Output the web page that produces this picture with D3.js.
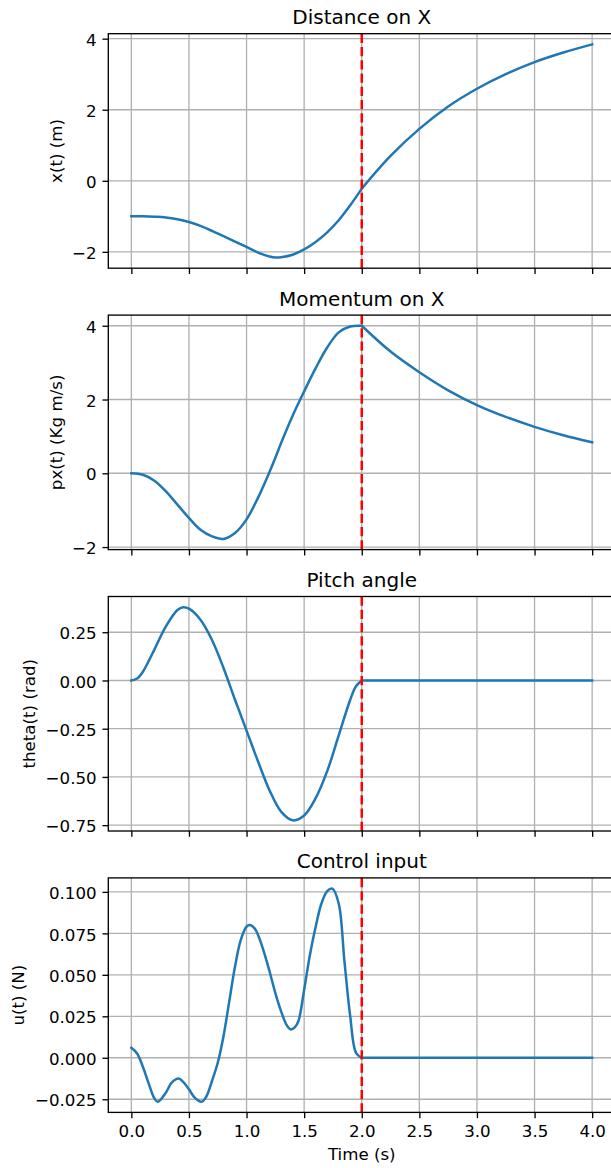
<!DOCTYPE html>
<meta charset="utf-8">
<style>
body { margin: 0; background: #fff; }
svg { display: block; font-family: "DejaVu Sans", sans-serif; }
</style>
<body>
<script src="https://cdn.jsdelivr.net/npm/d3@7"></script>
<script>
// position and momentum samples (s, m, kg m/s)
var tState = [0, 0.1, 0.2, 0.3, 0.4, 0.5, 0.6, 0.7, 0.8, 0.9, 1.0, 1.1, 1.2, 1.25, 1.3, 1.4, 1.5, 1.6, 1.7, 1.8, 1.9, 2.0,
              2.25, 2.5, 2.75, 3.0, 3.25, 3.5, 3.75, 4.0];
var xPos   = [-1.00, -1.00, -1.01, -1.03, -1.08, -1.16, -1.27, -1.41, -1.56, -1.71, -1.86, -2.02, -2.13, -2.16, -2.15, -2.08, -1.93, -1.72, -1.45, -1.11, -0.69, -0.22,
              0.70, 1.46, 2.09, 2.59, 3.00, 3.34, 3.61, 3.84];
var pxMom  = [0.00, -0.04, -0.20, -0.49, -0.85, -1.21, -1.53, -1.71, -1.78, -1.62, -1.25, -0.66, 0.04, 0.42, 0.82, 1.56, 2.22, 2.85, 3.41, 3.82, 3.98, 4.00,
              3.30, 2.74, 2.25, 1.85, 1.53, 1.26, 1.03, 0.84];

// pitch angle (rad)
var tPitch = [0, 0.05, 0.1, 0.15, 0.2, 0.3, 0.4, 0.45, 0.5, 0.6, 0.7, 0.8, 0.9, 1.0, 1.1, 1.2, 1.3, 1.4, 1.5, 1.6, 1.7, 1.8, 1.9, 1.95, 2.0, 2.5, 3.0, 3.5, 4.0];
var thetaPitch = [0, 0.01, 0.045, 0.10, 0.16, 0.28, 0.365, 0.38, 0.372, 0.315, 0.21, 0.065, -0.10, -0.26, -0.42, -0.57, -0.68, -0.725, -0.70, -0.61, -0.47, -0.285, -0.10, -0.03, 0, 0, 0, 0, 0];

// control input (N)
var tCtrl = [0, 0.05, 0.1, 0.15, 0.2, 0.23, 0.3, 0.35, 0.41, 0.45, 0.5, 0.55, 0.61, 0.65, 0.7, 0.75, 0.8, 0.85, 0.9, 0.95, 1.0, 1.03, 1.07,
             1.1, 1.15, 1.2, 1.25, 1.3, 1.35, 1.385, 1.42, 1.45, 1.5, 1.55, 1.6, 1.65, 1.7, 1.745, 1.8, 1.85, 1.9, 1.95, 2.0, 2.5, 3.0, 3.5, 4.0];
var uCtrl = [0.006, 0.0026, -0.0054, -0.0154, -0.0245, -0.0265, -0.021, -0.015, -0.0125, -0.0145, -0.019, -0.024, -0.0265, -0.0235, -0.014, -0.003, 0.013, 0.034, 0.055, 0.071, 0.079, 0.080, 0.078,
             0.074, 0.064, 0.052, 0.039, 0.028, 0.0195, 0.017, 0.0185, 0.022, 0.041, 0.062, 0.079, 0.093, 0.1005, 0.102, 0.093, 0.058, 0.025, 0.003, 0, 0, 0, 0, 0];

var titles  = ["Distance on X", "Momentum on X", "Pitch angle", "Control input"];
var yLabels = ["x(t) (m)", "px(t) (Kg m/s)", "theta(t) (rad)", "u(t) (N)"];
var yTicks  = [[-2, 0, 2, 4], [-2, 0, 2, 4], [-0.75, -0.5, -0.25, 0, 0.25], [-0.025, 0, 0.025, 0.05, 0.075, 0.1]];
var yFormats = ["d", "d", ".2f", ".3f"];
var xTicks  = [0, 0.5, 1, 1.5, 2, 2.5, 3, 3.5, 4];
var tSwitch = 2.0;
var xLabel  = "Time (s)";

var panels = [
  {t: tState, v: xPos},
  {t: tState, v: pxMom},
  {t: tPitch, v: thetaPitch},
  {t: tCtrl,  v: uCtrl}
];

// figure geometry (the picture is cropped just before the right spine)
var W = 611, H = 1168;
var left = 108.3, plotW = 506.9, plotH = 234.5, top0 = 33.7, step = 281.4;
var lw = 1.33, tickLen = 5.83, tickPad = 5.83, fs = 16.67;

var svg = d3.select("body").append("svg")
    .attr("width", W)
    .attr("height", H);

var tExt = d3.extent(tState), tPad = (tExt[1] - tExt[0]) * 0.05;
var x = d3.scaleLinear()
    .domain([tExt[0] - tPad, tExt[1] + tPad])
    .range([0, plotW]);

panels.forEach(function(p, i) {
  var top = top0 + i * step;
  var g = svg.append("g").attr("transform", "translate(" + left + "," + top + ")");

  var ext = d3.extent(p.v), pad = (ext[1] - ext[0]) * 0.05;
  var y = d3.scaleLinear()
      .domain([ext[0] - pad, ext[1] + pad])
      .range([plotH, 0]);

  // grid
  g.append("g").selectAll("line").data(xTicks).join("line")
      .attr("x1", function(d) { return x(d); })
      .attr("x2", function(d) { return x(d); })
      .attr("y1", 0).attr("y2", plotH)
      .attr("stroke", "#b0b0b0").attr("stroke-width", lw);
  g.append("g").selectAll("line").data(yTicks[i]).join("line")
      .attr("x1", 0).attr("x2", plotW)
      .attr("y1", function(d) { return y(d); })
      .attr("y2", function(d) { return y(d); })
      .attr("stroke", "#b0b0b0").attr("stroke-width", lw);

  // curve, smoothed separately before and after the switch time
  var pts = d3.zip(p.t, p.v);
  var line = d3.line()
      .x(function(d) { return x(d[0]); })
      .y(function(d) { return y(d[1]); })
      .curve(d3.curveCatmullRom.alpha(0.5));
  var parts = [pts.filter(function(d) { return d[0] <= tSwitch; }),
               pts.filter(function(d) { return d[0] >= tSwitch; })];
  g.append("path")
      .attr("d", line(parts[0]) + line(parts[1]).replace(/^M/, "L"))
      .attr("fill", "none")
      .attr("stroke", "#1f77b4")
      .attr("stroke-width", 2.5)
      .attr("stroke-linejoin", "round")
      .attr("stroke-linecap", "square");

  // switching time marker
  g.append("line")
      .attr("x1", x(tSwitch)).attr("x2", x(tSwitch))
      .attr("y1", 0).attr("y2", plotH)
      .attr("stroke", "red")
      .attr("stroke-width", 2.5)
      .attr("stroke-dasharray", "9.25,4");

  // spines
  g.append("rect")
      .attr("width", plotW).attr("height", plotH)
      .attr("fill", "none").attr("stroke", "#000").attr("stroke-width", lw);

  // y axis
  var ya = g.append("g")
      .call(d3.axisLeft(y).tickValues(yTicks[i]).tickFormat(d3.format(yFormats[i]))
        .tickSize(tickLen).tickPadding(tickPad).tickSizeOuter(0));
  ya.select(".domain").remove();
  ya.attr("font-size", fs).attr("font-family", null);
  ya.selectAll("line").attr("stroke-width", lw);
  ya.selectAll("text").attr("dy", "0.4em").attr("fill", "#000");

  // x axis (labels only on the bottom panel)
  var xa = g.append("g")
      .attr("transform", "translate(0," + plotH + ")")
      .call(d3.axisBottom(x).tickValues(xTicks)
        .tickFormat(i === panels.length - 1 ? d3.format(".1f") : "")
        .tickSize(tickLen).tickPadding(tickPad).tickSizeOuter(0));
  xa.select(".domain").remove();
  xa.attr("font-size", fs).attr("font-family", null);
  xa.selectAll("line").attr("stroke-width", lw);
  xa.selectAll("text").attr("dy", "0.76em").attr("fill", "#000");

  // title
  g.append("text")
      .attr("x", plotW / 2).attr("y", -9.5)
      .attr("text-anchor", "middle")
      .attr("font-size", 20)
      .text(titles[i]);

  // y label, placed left of the widest tick label
  var bb = ya.node().getBBox();
  var lx = bb.x - 6.67 - 3.9;
  g.append("text")
      .attr("transform", "translate(" + lx + "," + (plotH / 2) + ") rotate(-90)")
      .attr("text-anchor", "middle")
      .attr("font-size", fs)
      .text(yLabels[i]);

  if (i === panels.length - 1) {
    var xb = xa.node().getBBox();
    g.append("text")
        .attr("x", plotW / 2)
        .attr("y", plotH + xb.y + xb.height + 6.67 + 12.7)
        .attr("text-anchor", "middle")
        .attr("font-size", fs)
        .text(xLabel);
  }
});
</script>
</body>
